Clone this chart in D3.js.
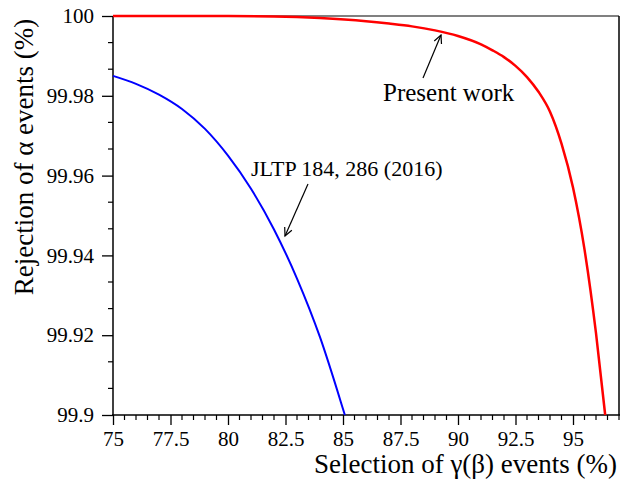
<!DOCTYPE html>
<html>
<head>
<meta charset="utf-8">
<script src="https://cdn.jsdelivr.net/npm/d3@7"></script>
<style>
  body { margin: 0; background: #fff; }
  svg text { font-family: "Liberation Serif", "Times New Roman", serif; fill: #000; }
</style>
</head>
<body>
<svg id="chart" width="635" height="481"></svg>
<script>
// data
var xTicks = [75, 77.5, 80, 82.5, 85, 87.5, 90, 92.5, 95];
var yTicks = [99.9, 99.92, 99.94, 99.96, 99.98, 100];

// old result (JLTP 184, 286 (2016))
var oldX = [75, 76, 77, 78, 79, 80, 81, 82, 83, 84, 85, 85.08];
var oldY = [99.985, 99.983, 99.9803, 99.9767, 99.9717, 99.965, 99.9567, 99.9465, 99.9342, 99.9195, 99.9015, 99.9];

// present work
var newX = [75, 80, 82, 84, 86, 87, 88, 89, 90, 91, 91.5, 92, 92.5, 93, 93.5, 94, 94.5, 95, 95.5, 96, 96.4];
var newY = [100, 100, 99.9999, 99.9995, 99.9987, 99.9981, 99.9974, 99.9964, 99.995, 99.9929, 99.9914, 99.9897, 99.9875, 99.9847, 99.981, 99.976, 99.968, 99.957, 99.9415, 99.9205, 99.9];

var svg = d3.select("#chart");
var mLeft = 113, mRight = 619, mTop = 16, mBottom = 415;

var x = d3.scaleLinear().domain([75, 97]).range([mLeft, mRight]);
var y = d3.scaleLinear().domain([99.9, 100]).range([mBottom, mTop]);

// minor ticks
var xMinor = d3.range(75, 97.01, 0.5).filter(function(d) { return xTicks.indexOf(d) < 0; });
var yMinor = [];
for (var i = 0; i < 15; i++) { if (i % 3 !== 0) yMinor.push(99.9 + i * 0.02 / 3); }

svg.append("g")
    .selectAll("line")
    .data(xMinor)
    .enter().append("line")
    .attr("x1", function(d) { return x(d); })
    .attr("x2", function(d) { return x(d); })
    .attr("y1", mBottom)
    .attr("y2", mBottom + 5)
    .attr("stroke", "#000")
    .attr("stroke-width", 1.2);

svg.append("g")
    .selectAll("line")
    .data(yMinor)
    .enter().append("line")
    .attr("x1", mLeft - 5)
    .attr("x2", mLeft)
    .attr("y1", function(d) { return y(d); })
    .attr("y2", function(d) { return y(d); })
    .attr("stroke", "#000")
    .attr("stroke-width", 1.2);

// major axes
var xAxis = svg.append("g")
    .attr("transform", "translate(0," + mBottom + ")")
    .call(d3.axisBottom(x).tickValues(xTicks).tickSize(10).tickPadding(6).tickFormat(d3.format("")));
var yAxis = svg.append("g")
    .attr("transform", "translate(" + mLeft + ",0)")
    .call(d3.axisLeft(y).tickValues(yTicks).tickSize(11).tickPadding(8).tickFormat(function(d) { return +d.toFixed(2); }));

[xAxis, yAxis].forEach(function(a) {
    a.attr("font-family", "'Liberation Serif', serif").attr("font-size", 21);
    a.select(".domain").remove();
    a.selectAll("line").attr("stroke", "#000").attr("stroke-width", 1.3);
});

// frame
svg.append("line").attr("x1", mLeft).attr("x2", mRight).attr("y1", mTop).attr("y2", mTop)
    .attr("stroke", "#808080").attr("stroke-width", 2);
svg.append("line").attr("x1", mRight).attr("x2", mRight).attr("y1", mTop).attr("y2", mBottom)
    .attr("stroke", "#000").attr("stroke-width", 1.5);
svg.append("line").attr("x1", mLeft).attr("x2", mLeft).attr("y1", mTop).attr("y2", mBottom)
    .attr("stroke", "#000").attr("stroke-width", 1.5);
svg.append("line").attr("x1", mLeft - 1).attr("x2", mRight + 1).attr("y1", mBottom).attr("y2", mBottom)
    .attr("stroke", "#000").attr("stroke-width", 1.5);

// curves
var line = d3.line()
    .x(function(d) { return x(d[0]); })
    .y(function(d) { return y(d[1]); })
    .curve(d3.curveMonotoneX);

svg.append("path")
    .datum(d3.zip(oldX, oldY))
    .attr("d", line)
    .attr("fill", "none")
    .attr("stroke", "#0000ff")
    .attr("stroke-width", 2);

svg.append("path")
    .datum(d3.zip(newX, newY))
    .attr("d", line)
    .attr("fill", "none")
    .attr("stroke", "#ff0000")
    .attr("stroke-width", 2.5);

// annotations
function arrow(x1, y1, x2, y2) {
    var a = Math.atan2(y2 - y1, x2 - x1), L = 9, w = 0.45;
    var g = svg.append("g").attr("stroke", "#000").attr("stroke-width", 1.2).attr("fill", "none");
    g.append("line").attr("x1", x1).attr("y1", y1).attr("x2", x2).attr("y2", y2);
    g.append("path").attr("d",
        "M" + (x2 - L * Math.cos(a - w)) + "," + (y2 - L * Math.sin(a - w)) +
        "L" + x2 + "," + y2 +
        "L" + (x2 - L * Math.cos(a + w)) + "," + (y2 - L * Math.sin(a + w)));
}

svg.append("text").attr("x", 383).attr("y", 101).style("font-size", "25px").text("Present work");
arrow(423, 78, 441, 35);

svg.append("text").attr("x", 251).attr("y", 176).style("font-size", "22px").text("JLTP 184, 286 (2016)");
arrow(308, 184, 285, 236);

// axis titles
svg.append("text")
    .attr("x", 617).attr("y", 473)
    .attr("text-anchor", "end")
    .style("font-size", "27px")
    .text("Selection of γ(β) events (%)");

svg.append("text")
    .attr("transform", "translate(33,157) rotate(-90)")
    .attr("text-anchor", "middle")
    .style("font-size", "27px")
    .text("Rejection of α events (%)");
</script>
</body>
</html>
